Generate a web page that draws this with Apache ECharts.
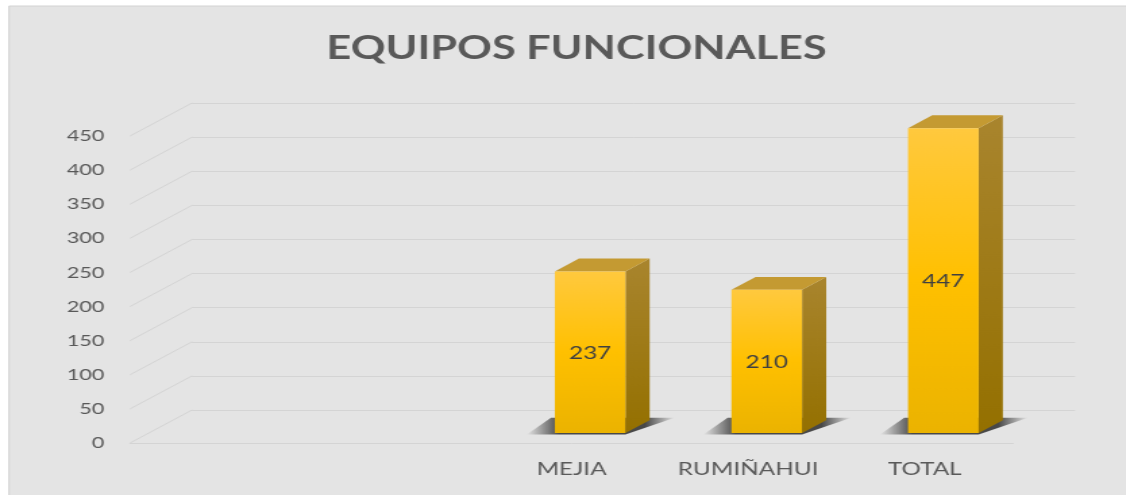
<!DOCTYPE html>
<html>
<head>
<meta charset="utf-8">
<script src="https://cdn.jsdelivr.net/npm/echarts@6/dist/echarts.min.js"></script>
<style>
html,body{margin:0;padding:0;background:#fff;overflow:hidden;}
/* the source picture is stretched sideways, so the chart is drawn narrow and widened */
#main{width:834px;height:495px;transform:scaleX(1.35);transform-origin:0 0;}
</style>
</head>
<body>
<div id="main"></div>
<script>
var titleText = 'EQUIPOS FUNCIONALES';
var categories = ['', '', 'MEJIA', 'RUMIÑAHUI', 'TOTAL'];
var values = [null, null, 237, 210, 447];
var tickValues = [0, 50, 100, 150, 200, 250, 300, 350, 400, 450];

var SX = 1.35;
// depth of the 3D box (back wall offset)
var DX = 62 / SX, DY = -33;
var FRONT = 0.30, DEPTH = 0.39;

var chart = echarts.init(document.getElementById('main'));

function renderBar(params, api) {
    var v = api.value(1);
    if (v == null || isNaN(v)) return;
    var idx = api.value(0);
    var base = api.coord([idx, 0]);
    var top = api.coord([idx, v]);
    var band = api.size([1, 0])[0];
    var w = band * 0.40;
    var x0 = base[0] - w / 2 + DX * FRONT;
    var y0 = base[1] + DY * FRONT;
    var yt = top[1] + DY * FRONT;
    var ddx = DX * DEPTH, ddy = DY * DEPTH;
    return {
        type: 'group',
        children: [
            {   // floor shadow
                type: 'polygon',
                shape: {points: [
                    [x0 - 28 / SX, y0 + 1.5], [x0 + w, y0 + 1.5],
                    [x0 + w + ddx + 25 / SX, y0 + ddy - 2.5], [x0 + ddx - 28 / SX, y0 + ddy - 2.5]
                ]},
                style: {fill: new echarts.graphic.LinearGradient(0, 0, 1, 0, [
                    {offset: 0, color: 'rgba(45,45,45,0)'},
                    {offset: 0.22, color: 'rgba(45,45,45,0.85)'},
                    {offset: 0.8, color: 'rgba(45,45,45,0.85)'},
                    {offset: 1, color: 'rgba(45,45,45,0)'}
                ])}
            },
            {   // side
                type: 'polygon',
                shape: {points: [[x0 + w, y0], [x0 + w, yt], [x0 + w + ddx, yt + ddy], [x0 + w + ddx, y0 + ddy]]},
                style: {fill: new echarts.graphic.LinearGradient(0, 0, 0, 1, [
                    {offset: 0, color: '#a9852e'},
                    {offset: 1, color: '#947000'}
                ])}
            },
            {   // top
                type: 'polygon',
                shape: {points: [[x0, yt], [x0 + w, yt], [x0 + w + ddx, yt + ddy], [x0 + ddx, yt + ddy]]},
                style: {fill: '#c49a32'}
            },
            {   // front
                type: 'rect',
                shape: {x: x0, y: yt, width: w, height: y0 - yt},
                style: {fill: new echarts.graphic.LinearGradient(0, 0, 0, 1, [
                    {offset: 0, color: '#ffc93e'},
                    {offset: 0.5, color: '#ffc000'},
                    {offset: 1, color: '#ebb300'}
                ])}
            },
            {
                type: 'text',
                style: {
                    text: String(v), x: x0 + w / 2, y: (yt + y0) / 2 + 1,
                    align: 'center', verticalAlign: 'middle',
                    fontSize: 18, fontFamily: 'Lato', fill: '#404040'
                }
            }
        ]
    };
}

function renderDiag(params, api) {
    var p = api.coord([0, api.value(1)]);
    var x = params.coordSys.x;
    return {
        type: 'line',
        shape: {x1: x, y1: p[1], x2: x + DX, y2: p[1] + DY},
        style: {stroke: '#d4d4d4', lineWidth: 1}
    };
}

var option = {
    backgroundColor: '#ffffff',
    animation: false,
    graphic: [{
        type: 'rect', z: -10, silent: true,
        shape: {x: 9 / SX, y: 6, width: 900, height: 520},
        style: {fill: '#e4e4e4', stroke: '#d2d2d2', lineWidth: 1}
    }],
    title: {
        text: titleText,
        left: 422, top: 28, textAlign: 'center',
        textStyle: {fontFamily: 'Lato', fontWeight: 'bold', fontSize: 32, color: '#595959'}
    },
    grid: [
        {left: 96.3, right: 83.6, top: 136, bottom: 52},
        {left: 96.3 + DX, right: 37.7, top: 136 + DY, bottom: 52 - DY}
    ],
    xAxis: [
        {
            type: 'category', gridIndex: 0, data: categories,
            axisLine: {lineStyle: {color: '#d4d4d4'}},
            axisTick: {show: false},
            axisLabel: {interval: 0, margin: 17, fontFamily: 'Lato', fontSize: 18, color: '#595959'}
        },
        {type: 'value', gridIndex: 1, show: false}
    ],
    yAxis: [
        {
            type: 'value', gridIndex: 0, min: 0, max: 450, interval: 50,
            axisLine: {show: false}, axisTick: {show: false}, splitLine: {show: false},
            axisLabel: {margin: 19, fontFamily: 'Lato', fontSize: 16, color: '#595959'}
        },
        {
            type: 'value', gridIndex: 1, min: 0, max: 450, interval: 50,
            axisLine: {show: false}, axisTick: {show: false}, axisLabel: {show: false},
            splitLine: {lineStyle: {color: '#d4d4d4'}}
        }
    ],
    series: [
        {
            type: 'custom', xAxisIndex: 0, yAxisIndex: 0, z: 1,
            renderItem: renderDiag,
            data: tickValues.map(function (t) { return [0, t]; })
        },
        {
            type: 'custom', xAxisIndex: 0, yAxisIndex: 0, z: 5,
            renderItem: renderBar,
            data: values.map(function (v, i) { return [i, v]; })
        }
    ]
};
chart.setOption(option);
</script>
</body>
</html>
